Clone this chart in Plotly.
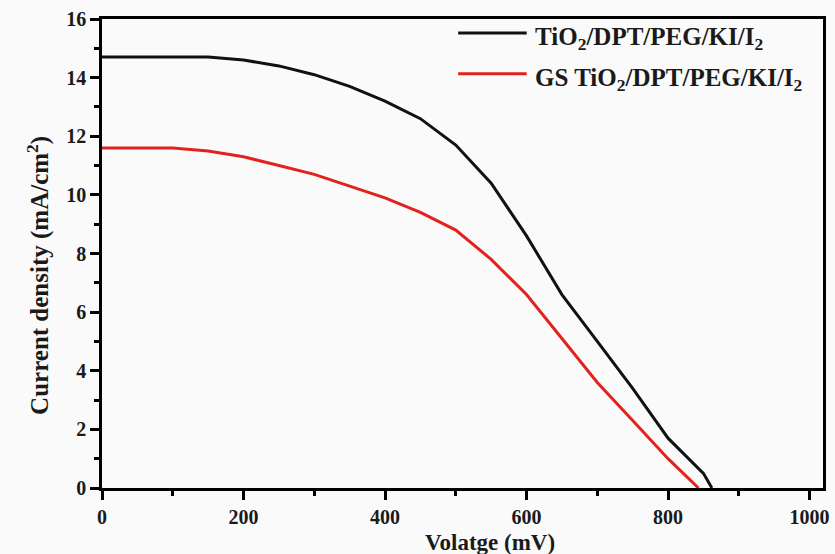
import plotly.graph_objects as go

voltage_black = [0, 50, 100, 150, 200, 250, 300, 350, 400, 450, 500, 550, 600, 650, 700, 750, 800, 850, 862]
current_black = [14.7, 14.7, 14.7, 14.7, 14.6, 14.4, 14.1, 13.7, 13.2, 12.6, 11.7, 10.4, 8.6, 6.6, 5.0, 3.4, 1.7, 0.5, 0.0]

voltage_red = [0, 50, 100, 150, 200, 250, 300, 350, 400, 450, 500, 550, 600, 650, 700, 750, 800, 843]
current_red = [11.6, 11.6, 11.6, 11.5, 11.3, 11.0, 10.7, 10.3, 9.9, 9.4, 8.8, 7.8, 6.6, 5.1, 3.6, 2.3, 1.0, 0.0]

label_black = "<b>TiO<sub>2</sub>/DPT/PEG/KI/I<sub>2</sub></b>"
label_red = "<b>GS TiO<sub>2</sub>/DPT/PEG/KI/I<sub>2</sub></b>"
x_title = "<b>Volatge (mV)</b>"
y_title = "<b>Current density (mA/cm<sup>2</sup>)</b>"

font_family = "Liberation Serif"
color_black = "#111111"
color_red = "#e2221e"

fig = go.Figure()
fig.add_trace(go.Scatter(x=voltage_black, y=current_black, mode="lines",
                         line=dict(color=color_black, width=3), name=label_black))
fig.add_trace(go.Scatter(x=voltage_red, y=current_red, mode="lines",
                         line=dict(color=color_red, width=3), name=label_red))

axis_common = dict(showline=True, linecolor="black", linewidth=2.5, mirror=True,
                   ticks="outside", ticklen=9, tickwidth=2.5, tickcolor="black",
                   showgrid=False, zeroline=False, automargin=False,
                   tickfont=dict(family=font_family, size=20, color="#1a1a1a"),
                   minor=dict(ticks="outside", ticklen=5, tickwidth=2.5, tickcolor="black"))

fig.update_layout(
    width=835, height=554,
    margin=dict(l=102, r=12, t=19, b=66),
    paper_bgcolor="#fafafa", plot_bgcolor="#fafafa",
    font=dict(family=font_family, color="#1a1a1a"),
    xaxis=dict(range=[0, 1019], tick0=0, dtick=200, minor_dtick=100, **axis_common),
    yaxis=dict(range=[0, 16], tick0=0, dtick=2, minor_dtick=1, **axis_common),
    showlegend=False,
)
fig.update_xaxes(tickprefix="<b>", ticksuffix="</b>")
fig.update_yaxes(tickprefix="<b>", ticksuffix="</b>")

# axis titles
fig.add_annotation(text=x_title, xref="paper", yref="paper", x=0.538, y=-0.117,
                   xanchor="center", yanchor="middle", showarrow=False,
                   font=dict(family=font_family, size=23, color="#1a1a1a"))
fig.add_annotation(text=y_title, xref="paper", yref="paper", x=-0.089, y=0.454,
                   xanchor="center", yanchor="middle", showarrow=False, textangle=-90,
                   font=dict(family=font_family, size=25, color="#1a1a1a"))

# legend (drawn manually to match the long line samples)
legend_rows = [(label_black, color_black, 0.970), (label_red, color_red, 0.883)]
for label, color, yp in legend_rows:
    fig.add_shape(type="line", xref="paper", yref="paper", x0=0.494, x1=0.589,
                  y0=yp, y1=yp, line=dict(color=color, width=3))
    fig.add_annotation(text=label, xref="paper", yref="paper", x=0.598, y=yp - 0.012,
                       xanchor="left", yanchor="middle", showarrow=False,
                       font=dict(family=font_family, size=25, color="#1a1a1a"))

fig.write_html("out.html")
